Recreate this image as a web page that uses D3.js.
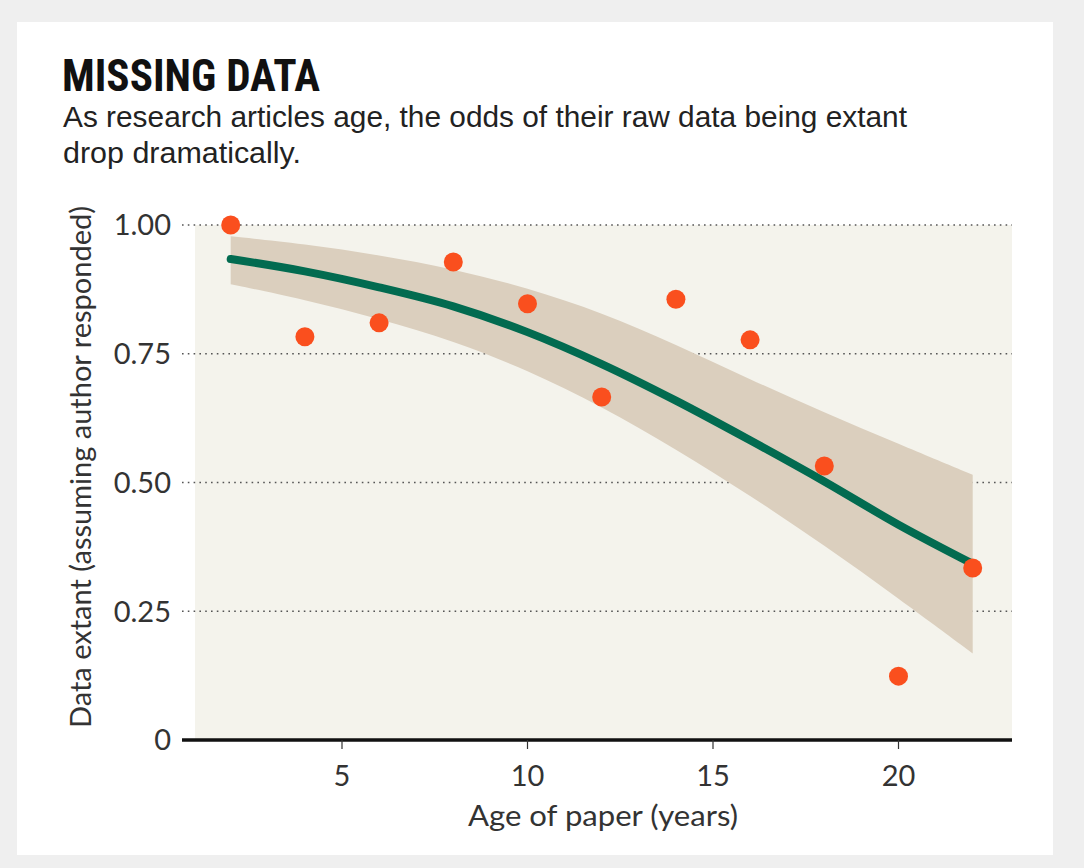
<!DOCTYPE html>
<html><head><meta charset="utf-8">
<script src="https://cdn.jsdelivr.net/npm/d3@7"></script>
<style>
html,body{margin:0;padding:0;background:#efefef;}
svg{display:block;}
</style></head>
<body>
<svg id="chart" width="1084" height="868"></svg>
<script>
// Data
const ages = [2, 4, 6, 8, 10, 12, 14, 16, 18, 20, 22];
const extant = [1.00, 0.783, 0.81, 0.928, 0.847, 0.666, 0.856, 0.777, 0.532, 0.124, 0.334];
const fitValues = [0.934, 0.910, 0.879, 0.842, 0.792, 0.730, 0.659, 0.582, 0.502, 0.418, 0.342];
const upperCI = [0.978, 0.963, 0.942, 0.915, 0.878, 0.830, 0.768, 0.700, 0.636, 0.575, 0.515];
const lowerCI = [0.885, 0.855, 0.818, 0.775, 0.718, 0.648, 0.565, 0.475, 0.378, 0.275, 0.168];
const yTicks = [0, 0.25, 0.5, 0.75, 1.0];
const yTickLabels = ["0", "0.25", "0.50", "0.75", "1.00"];
const xTicks = [5, 10, 15, 20];

const svg = d3.select("#chart");
const FONT = "Lato, 'Open Sans', sans-serif";

// card
svg.append("rect").attr("x", 17).attr("y", 22).attr("width", 1036).attr("height", 833).attr("fill", "#ffffff");

const x = d3.scaleLinear().domain([0, 22]).range([156.5, 972.7]);
const y = d3.scaleLinear().domain([0, 1]).range([740, 225]);

// plot background
svg.append("rect").attr("x", 195).attr("y", y(1)).attr("width", 1012 - 195).attr("height", y(0) - y(1)).attr("fill", "#f4f3ec");

// gridlines
svg.append("g").selectAll("line").data(yTicks.filter(d => d > 0)).join("line")
  .attr("x1", 182).attr("x2", 1012)
  .attr("y1", d => y(d)).attr("y2", d => y(d))
  .attr("stroke", "#555").attr("stroke-width", 1.6).attr("stroke-dasharray", "1.6,4.2");

// y tick labels
svg.append("g").selectAll("text").data(yTicks).join("text")
  .attr("x", 171).attr("y", d => y(d)).attr("dy", "0.36em")
  .attr("text-anchor", "end")
  .attr("font-family", FONT).attr("font-weight", 400)
  .attr("font-size", 29).attr("fill", "#333")
  .text((d, i) => yTickLabels[i]);

// confidence band
const band = ages.map((a, i) => ({a, lo: lowerCI[i], hi: upperCI[i]}));
svg.append("path").datum(band)
  .attr("fill", "#dbcfbe")
  .attr("d", d3.area().x(d => x(d.a)).y0(d => y(d.lo)).y1(d => y(d.hi)).curve(d3.curveBasis));

// fit line
const fit = ages.map((a, i) => ({a, v: fitValues[i]}));
svg.append("path").datum(fit)
  .attr("fill", "none").attr("stroke", "#026b50").attr("stroke-width", 8).attr("stroke-linecap", "round")
  .attr("d", d3.line().x(d => x(d.a)).y(d => y(d.v)).curve(d3.curveMonotoneX));

// points
svg.append("g").selectAll("circle").data(ages.map((a, i) => ({a, v: extant[i]}))).join("circle")
  .attr("cx", d => x(d.a)).attr("cy", d => y(d.v)).attr("r", 9.5)
  .attr("fill", "#fa4f1e");

// x axis
const xAxis = svg.append("g");
xAxis.append("line").attr("x1", 182).attr("x2", 1012).attr("y1", y(0)).attr("y2", y(0))
  .attr("stroke", "#111").attr("stroke-width", 3.5);
xAxis.selectAll("line.tick").data(xTicks).join("line").attr("class", "tick")
  .attr("x1", d => x(d)).attr("x2", d => x(d)).attr("y1", y(0)).attr("y2", y(0) + 9)
  .attr("stroke", "#333").attr("stroke-width", 1.2);
xAxis.selectAll("text").data(xTicks).join("text")
  .attr("x", d => x(d)).attr("y", 786).attr("text-anchor", "middle")
  .attr("font-family", FONT).attr("font-weight", 400)
  .attr("font-size", 29).attr("fill", "#333").text(d => d);

// axis titles
svg.append("text").attr("x", 603).attr("y", 826).attr("text-anchor", "middle")
  .attr("font-family", FONT).attr("font-weight", 400)
  .attr("font-size", 29).attr("fill", "#333")
  .attr("textLength", 270).attr("lengthAdjust", "spacingAndGlyphs")
  .text("Age of paper (years)");
svg.append("text").attr("transform", "translate(91,467) rotate(-90)").attr("text-anchor", "middle")
  .attr("font-family", FONT).attr("font-weight", 400)
  .attr("font-size", 29).attr("fill", "#333")
  .attr("textLength", 522).attr("lengthAdjust", "spacingAndGlyphs")
  .text("Data extant (assuming author responded)");

// title and subtitle
svg.append("text").attr("x", 62).attr("y", 91)
  .attr("font-family", "'Liberation Sans Narrow', 'Roboto Condensed', sans-serif").attr("font-weight", 700)
  .attr("font-size", 44).attr("fill", "#111").attr("textLength", 258).attr("lengthAdjust", "spacingAndGlyphs")
  .text("MISSING DATA");
svg.append("text").attr("x", 63).attr("y", 127)
  .attr("font-family", "'Liberation Sans Narrow', sans-serif")
  .attr("font-size", 29).attr("fill", "#222").attr("textLength", 844).attr("lengthAdjust", "spacingAndGlyphs")
  .text("As research articles age, the odds of their raw data being extant");
svg.append("text").attr("x", 63).attr("y", 163)
  .attr("font-family", "'Liberation Sans Narrow', sans-serif")
  .attr("font-size", 29).attr("fill", "#222").attr("textLength", 238).attr("lengthAdjust", "spacingAndGlyphs")
  .text("drop dramatically.");
</script>
</body></html>
